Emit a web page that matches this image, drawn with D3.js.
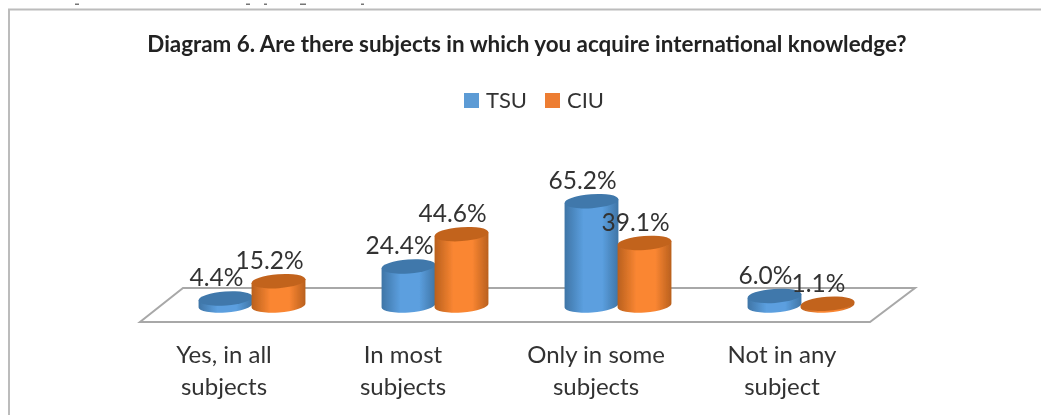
<!DOCTYPE html>
<html>
<head>
<meta charset="utf-8">
<script src="https://cdn.jsdelivr.net/npm/d3@7"></script>
<style>
	html, body { margin: 0; padding: 0; background: #fff; overflow: hidden; }
	svg { display: block; }
	text { font-family: Lato, "Open Sans", sans-serif; fill: #333; }
</style>
</head>
<body>
<svg width="1041" height="415"></svg>
<script>
let title = 'Diagram 6. Are there subjects in which you acquire international knowledge?'
let categories = ['Yes, in all subjects', 'In most subjects', 'Only in some subjects', 'Not in any subject']
let categoryLines = [['Yes, in all', 'subjects'], ['In most', 'subjects'], ['Only in some', 'subjects'], ['Not in any', 'subject']]
let seriesNames = ['TSU', 'CIU']
let tsuValues = [4.4, 24.4, 65.2, 6.0]
let ciuValues = [15.2, 44.6, 39.1, 1.1]
// bits of the line of text cut off above the frame: left edge, width
let cutOffBits = [[75, 4], [246, 4], [264, 3], [300, 6], [361, 3]]

let svg = d3.select('svg')

let x = d3.scalePoint().domain(categories).range([252, 801])
let series = d3.scaleBand().domain(seriesNames).range([-53, 53])
let y = d3.scaleLinear().domain([0, 70]).range([305.5, 193.5])
let rx = 27, ry = 7, tilt = -4.2
let dx = rx * Math.cos(tilt * Math.PI / 180), dy = rx * Math.sin(tilt * Math.PI / 180)

let colors = {
	TSU: {edge: '#3f75a6', mid: '#5b9fdf', top: '#3f78ab'},
	CIU: {edge: '#b9601e', mid: '#fa8632', top: '#c2641f'}
}

let defs = svg.append('defs')
defs.append('filter').attr('id', 'soft').append('feGaussianBlur').attr('stdDeviation', 0.45)
defs.append('filter').attr('id', 'softText').append('feGaussianBlur').attr('stdDeviation', 0.3)
seriesNames.forEach(name => {
	let grad = defs.append('linearGradient').attr('id', 'side' + name)
	grad.append('stop').attr('offset', '0%').attr('stop-color', colors[name].edge)
	grad.append('stop').attr('offset', '35%').attr('stop-color', colors[name].mid)
	grad.append('stop').attr('offset', '70%').attr('stop-color', colors[name].mid)
	grad.append('stop').attr('offset', '100%').attr('stop-color', colors[name].edge)
})

svg.append('g')
	.selectAll('rect')
	.data(cutOffBits)
	.join('rect')
	.attr('x', d => d[0])
	.attr('y', 3.5)
	.attr('width', d => d[1])
	.attr('height', 1.5)
	.attr('fill', '#777')

// chart frame, runs off the right and bottom of the crop
svg.append('path')
	.attr('d', 'M9,415 V9.5 H1041')
	.attr('fill', 'none')
	.attr('stroke', '#bcbcbc')
	.attr('stroke-width', 2)

// floor of the 3d plot
let floorFront = y(0) + 16.5, floorBack = y(0) - 17.5
svg.append('path')
	.attr('d', d3.line()([[x.range()[0] - 112, floorFront], [x.range()[1] + 69, floorFront], [x.range()[1] + 114, floorBack], [x.range()[0] - 69, floorBack]]) + 'Z')
	.attr('fill', '#fff')
	.attr('stroke', '#a8a8a8')
	.attr('stroke-width', 2)

let rows = categories.flatMap((category, i) => [
	{category, name: 'TSU', value: tsuValues[i]},
	{category, name: 'CIU', value: ciuValues[i]}
])

function centerX(d) {
	return x(d.category) + series(d.name) + series.bandwidth() / 2
}

function sidePath(d) {
	let cx = centerX(d), top = y(d.value), base = y(0)
	return `M${cx - dx},${top - dy} L${cx - dx},${base - dy} A${rx},${ry} ${tilt} 0 0 ${cx + dx},${base + dy} L${cx + dx},${top + dy} Z`
}

let bars = svg.append('g').attr('filter', 'url(#soft)')
	.selectAll('g')
	.data(rows)
	.join('g')

bars.append('path')
	.attr('d', sidePath)
	.attr('fill', d => `url(#side${d.name})`)

bars.append('ellipse')
	.attr('rx', rx)
	.attr('ry', ry)
	.attr('transform', d => `translate(${centerX(d)},${y(d.value)}) rotate(${tilt})`)
	.attr('fill', d => colors[d.name].top)

let textLayer = svg.append('g').attr('filter', 'url(#softText)')

// value labels
textLayer.append('g')
	.selectAll('text')
	.data(rows)
	.join('text')
	.attr('x', d => centerX(d) - 9)
	.attr('y', d => y(d.value) - 12)
	.attr('text-anchor', 'middle')
	.attr('font-size', 24.5)
	.text(d => d.value.toFixed(1) + '%')

// category labels
let categoryShift = [-28, -32, -22, -19]
let labels = textLayer.append('g')
	.selectAll('text')
	.data(categories)
	.join('text')
	.attr('text-anchor', 'middle')
	.attr('font-size', 24)
labels.selectAll('tspan')
	.data((d, i) => categoryLines[i].map(line => ({line, cat: d, i})))
	.join('tspan')
	.attr('x', d => x(d.cat) + categoryShift[d.i])
	.attr('y', (d, j) => 363 + j * 32)
	.text(d => d.line)

// title
textLayer.append('text')
	.attr('x', 527)
	.attr('y', 52)
	.attr('text-anchor', 'middle')
	.attr('font-size', 22.4)
	.attr('font-weight', 700)
	.style('fill', '#222')
	.text(title)

// legend
let legendX = d3.scaleOrdinal().domain(seriesNames).range([464, 545])
let legend = textLayer.append('g')
	.selectAll('g')
	.data(seriesNames)
	.join('g')
	.attr('transform', d => `translate(${legendX(d)},93)`)
legend.append('rect')
	.attr('width', 15)
	.attr('height', 15)
	.attr('fill', d => d == 'TSU' ? '#5b9bd5' : '#ed7d31')
legend.append('text')
	.attr('x', 22)
	.attr('y', 15)
	.attr('font-size', 22)
	.text(d => d)
</script>
</body>
</html>
